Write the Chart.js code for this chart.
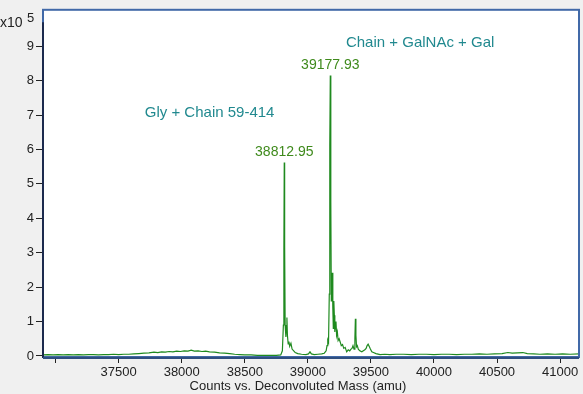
<!DOCTYPE html>
<html>
<head>
<meta charset="utf-8">
<script src="https://cdn.jsdelivr.net/npm/chart.js@4/dist/chart.umd.min.js"></script>
<style>
  html, body { margin: 0; padding: 0; background: #f0f0f0; }
  #wrap { width: 583px; height: 394px; position: relative; }
</style>
</head>
<body>
<div id="wrap"><canvas id="spectrum"></canvas></div>
<script>
// Deconvoluted spectrum (counts in x10^5)
const masses = [
  36900, 36940, 36980, 37020, 37060, 37100, 37140, 37180, 37220, 37260,
  37300, 37340, 37380, 37420, 37460, 37500, 37540, 37580, 37620, 37660,
  37700, 37740, 37780, 37810, 37840, 37870, 37900, 37930, 37960, 37990,
  38020, 38050, 38075, 38100, 38130, 38160, 38190, 38220, 38260, 38300,
  38340, 38380, 38420, 38460, 38500, 38550, 38600, 38650, 38700, 38750,
  38785, 38798, 38806, 38810, 38813, 38816, 38820, 38826, 38830, 38834,
  38838, 38844, 38850, 38856, 38866, 38875, 38888, 38900, 38920, 38950,
  38985, 39005, 39017, 39028, 39050, 39080, 39110, 39130, 39145, 39152,
  39158, 39164, 39170, 39174, 39178, 39182, 39186, 39190, 39194, 39198,
  39202, 39206, 39210, 39214, 39218, 39223, 39228, 39234, 39240, 39248,
  39257, 39265, 39275, 39285, 39296, 39308, 39320, 39332, 39342, 39350,
  39358, 39366, 39373, 39377, 39381, 39386, 39392, 39400, 39412, 39428,
  39440, 39452, 39462, 39470, 39478, 39486, 39496, 39507, 39520, 39540,
  39573, 39610, 39650, 39700, 39760, 39820, 39880, 39940, 40000, 40060,
  40120, 40180, 40240, 40300, 40360, 40420, 40480, 40540, 40586, 40620,
  40660, 40705, 40740, 40790, 40840, 40900, 40960, 41020, 41080, 41150
];
const counts = [
  0.03, 0.04, 0.03, 0.04, 0.03, 0.04, 0.03, 0.04, 0.03, 0.04,
  0.04, 0.03, 0.04, 0.04, 0.05, 0.04, 0.05, 0.05, 0.06, 0.07,
  0.08, 0.09, 0.11, 0.10, 0.12, 0.11, 0.13, 0.12, 0.14, 0.13,
  0.15, 0.14, 0.17, 0.14, 0.15, 0.13, 0.14, 0.12, 0.11, 0.09,
  0.08, 0.07, 0.05, 0.04, 0.03, 0.03, 0.02, 0.02, 0.02, 0.02,
  0.03, 0.15, 0.90, 3.10, 5.62, 3.20, 0.90, 0.55, 0.80, 1.12,
  0.60, 0.35, 0.42, 0.28, 0.37, 0.20, 0.15, 0.10, 0.07, 0.05,
  0.04, 0.06, 0.12, 0.06, 0.04, 0.05, 0.06, 0.08, 0.15, 0.30,
  0.46, 0.40, 1.80, 6.10, 8.15, 4.50, 1.60, 1.90, 2.42, 1.40,
  0.80, 1.60, 1.18, 0.70, 0.90, 1.00, 0.60, 0.70, 0.45, 0.50,
  0.40, 0.30, 0.33, 0.22, 0.25, 0.12, 0.18, 0.15, 0.20, 0.22,
  0.30, 0.20, 0.50, 1.08, 0.60, 0.27, 0.30, 0.20, 0.15, 0.12,
  0.15, 0.18, 0.22, 0.30, 0.34, 0.28, 0.20, 0.12, 0.10, 0.07,
  0.04, 0.05, 0.04, 0.05, 0.05, 0.04, 0.05, 0.05, 0.04, 0.05,
  0.05, 0.04, 0.05, 0.05, 0.06, 0.05, 0.06, 0.07, 0.10, 0.08,
  0.09, 0.10, 0.07, 0.06, 0.05, 0.06, 0.05, 0.06, 0.05, 0.06
];

// axis ticks
const xTicks = [37000, 37500, 38000, 38500, 39000, 39500, 40000, 40500, 41000];
const yTicks = [0, 1, 2, 3, 4, 5, 6, 7, 8, 9];

// peak labels (mass, height)
const peakMasses = [38812.95, 39177.93];
const peakHeights = [5.62, 8.15];
const peakLabels = ['38812.95', '39177.93'];

// species annotations (left edge mass, centre height)
const noteTexts = ['Gly + Chain 59-414', 'Chain + GalNAc + Gal'];
const noteMasses = [37707, 39302];
const noteHeights = [7.07, 9.11];

const FONT = '"Liberation Sans", Arial, sans-serif';

// background, frame and texts
const framePlugin = {
  id: 'frame',
  beforeDraw(chart) {
    const ctx = chart.ctx;
    const a = chart.chartArea;
    ctx.save();
    ctx.fillStyle = '#f0f0f0';
    ctx.fillRect(0, 0, chart.width, chart.height);
    ctx.fillStyle = '#ffffff';
    ctx.fillRect(a.left, a.top, a.right - a.left, a.bottom - a.top);
    ctx.restore();
  },
  afterDraw(chart) {
    const ctx = chart.ctx;
    const a = chart.chartArea;
    const xs = chart.scales.x;
    const ys = chart.scales.y;
    ctx.save();
    // frame
    ctx.strokeStyle = '#4169a8';
    ctx.lineWidth = 2;
    ctx.strokeRect(a.left, a.top, a.right - a.left, a.bottom - a.top);
    // y axis line
    ctx.strokeStyle = '#1c2a4e';
    ctx.beginPath();
    ctx.moveTo(a.left, ys.getPixelForValue(9.7));
    ctx.lineTo(a.left, a.bottom + 1);
    ctx.stroke();
    ctx.strokeStyle = '#2f4f80';
    ctx.beginPath();
    ctx.moveTo(a.left, a.bottom + 1);
    ctx.lineTo(a.right, a.bottom + 1);
    ctx.stroke();

    // peak labels
    ctx.fillStyle = '#3f8a1c';
    ctx.font = '14px ' + FONT;
    ctx.textAlign = 'center';
    ctx.textBaseline = 'bottom';
    for (let i = 0; i < peakLabels.length; i++) {
      ctx.fillText(peakLabels[i], xs.getPixelForValue(peakMasses[i]), ys.getPixelForValue(peakHeights[i]) - 3);
    }

    // annotations
    ctx.fillStyle = '#21898f';
    ctx.font = '15px ' + FONT;
    ctx.textAlign = 'left';
    ctx.textBaseline = 'middle';
    for (let i = 0; i < noteTexts.length; i++) {
      ctx.fillText(noteTexts[i], xs.getPixelForValue(noteMasses[i]), ys.getPixelForValue(noteHeights[i]));
    }

    // exponent and axis title
    ctx.fillStyle = '#222';
    ctx.font = '14px ' + FONT;
    ctx.textAlign = 'left';
    ctx.textBaseline = 'alphabetic';
    ctx.fillText('x10', 0, 27);
    ctx.font = '13px ' + FONT;
    ctx.fillText('5', 27, 22);
    ctx.textAlign = 'center';
    ctx.fillText('Counts vs. Deconvoluted Mass (amu)', 298, 390);
    ctx.restore();
  }
};

const ctx = document.getElementById('spectrum').getContext('2d');
const spectrumChart = new Chart(ctx, {
  type: 'line',
  data: {
    datasets: [{
      data: masses.map((m, i) => ({x: m, y: counts[i]})),
      borderColor: '#1f8a1f',
      borderWidth: 1.2,
      pointRadius: 0,
      tension: 0
    }]
  },
  options: {
    responsive: true,
    maintainAspectRatio: false,
    animation: false,
    devicePixelRatio: 1,
    layout: { padding: { top: 6, right: 4, left: 0, bottom: 0 } },
    plugins: {
      legend: { display: false },
      tooltip: { enabled: false }
    },
    scales: {
      x: {
        type: 'linear',
        min: 36900,
        max: 41150,
        afterBuildTicks: (s) => { s.ticks = xTicks.map(v => ({value: v})); },
        afterFit: (s) => { s.height = 37; },
        border: { display: false },
        grid: { drawOnChartArea: false, drawTicks: true, tickLength: 6, color: '#222' },
        ticks: {
          color: '#222',
          font: { family: FONT, size: 13 },
          padding: 2,
          maxRotation: 0,
          autoSkip: false,
          callback: (v) => v === 37000 ? '' : String(v)
        }
      },
      y: {
        min: -0.03,
        max: 10.06,
        afterBuildTicks: (s) => { s.ticks = yTicks.map(v => ({value: v})); },
        afterFit: (s) => { s.width = 43; },
        border: { display: false },
        grid: { drawOnChartArea: false, drawTicks: true, tickLength: 7, color: '#222' },
        ticks: {
          color: '#222',
          font: { family: FONT, size: 13 },
          padding: 2,
          callback: (v) => String(v)
        }
      }
    }
  },
  plugins: [framePlugin]
});
</script>
</body>
</html>
